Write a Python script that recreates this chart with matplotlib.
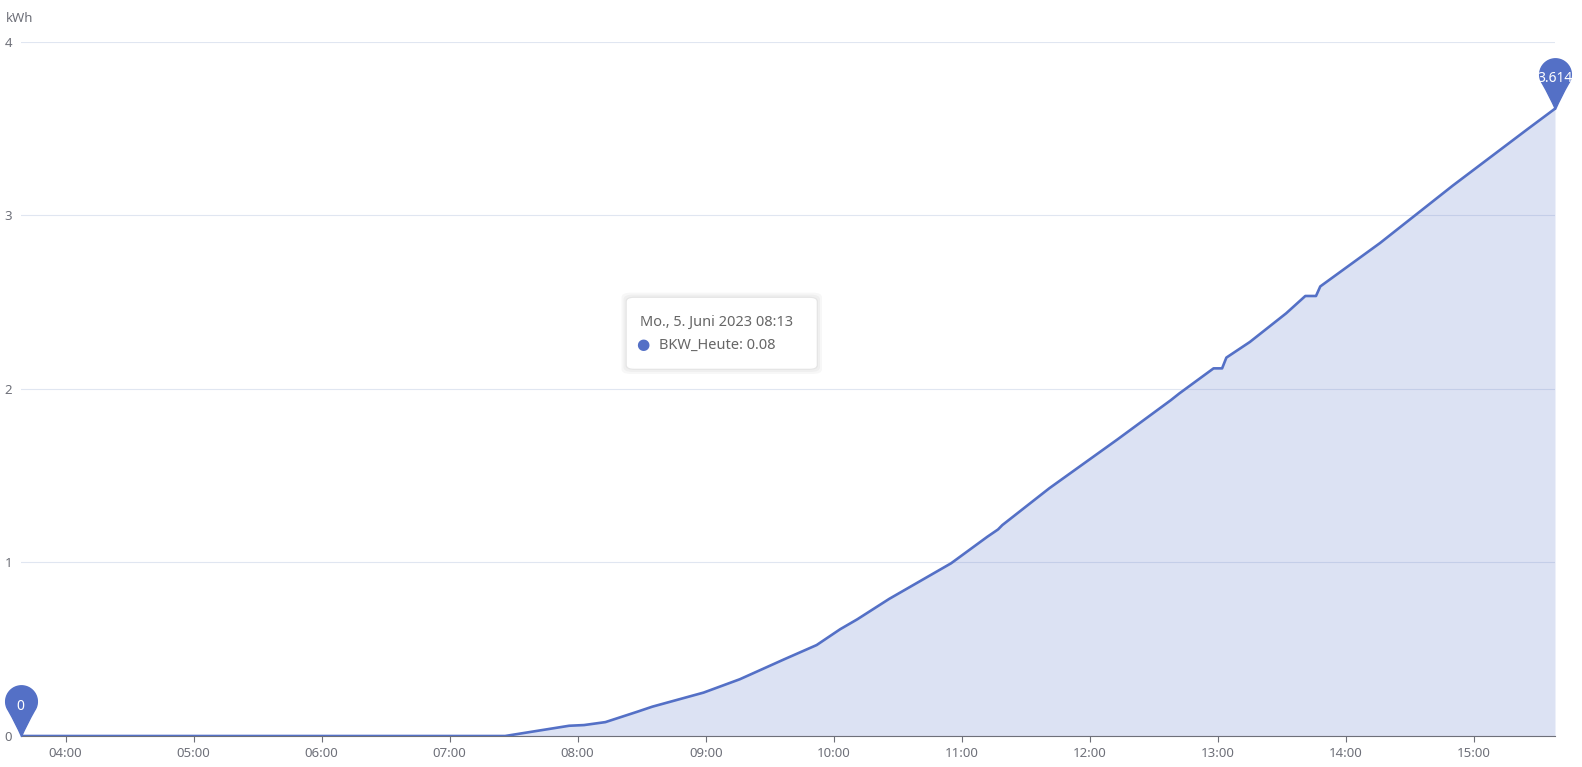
import matplotlib.pyplot as plt
from matplotlib.path import Path
from matplotlib.patches import FancyBboxPatch
import numpy as np

# Ablesewerte BKW_Heute (kWh) über die Uhrzeit
times = ["03:39", "07:26", "07:56", "08:03", "08:13", "08:28", "08:35", "08:59",
         "09:16", "09:37", "09:52", "10:03", "10:11", "10:26", "10:55", "11:10",
         "11:12", "11:17", "11:19", "11:41", "12:13", "12:38", "12:42", "12:58",
         "13:02", "13:04", "13:15", "13:32", "13:41", "13:46", "13:48", "14:16",
         "14:50", "15:25", "15:38"]
values = [0.0, 0.0, 0.059, 0.063, 0.08, 0.14, 0.169, 0.25,
          0.327, 0.443, 0.524, 0.615, 0.672, 0.79, 0.995, 1.13,
          1.148, 1.19, 1.215, 1.427, 1.709, 1.935, 1.974, 2.118,
          2.118, 2.18, 2.27, 2.435, 2.535, 2.535, 2.59, 2.84,
          3.17, 3.495, 3.614]
xtick_labels = ["04:00", "05:00", "06:00", "07:00", "08:00", "09:00",
                "10:00", "11:00", "12:00", "13:00", "14:00", "15:00"]
yticks = [0, 1, 2, 3, 4]

hours = np.array([int(t[:2]) + int(t[3:]) / 60 for t in times])
vals = np.array(values)

blue = "#5470c6"
grey = "#6e7079"
plt.rcParams["font.family"] = ["Noto Sans", "DejaVu Sans"]

fig = plt.figure(figsize=(15.82, 7.67), dpi=100)
ax = fig.add_axes([20.7 / 1582, 31 / 767, (1555 - 20.7) / 1582, (736 - 41.7) / 767])

ax.fill_between(hours, vals, 0, color=blue, alpha=0.2, lw=0)
ax.plot(hours, vals, color=blue, lw=1.9, solid_joinstyle="round", zorder=3)

ax.set_xlim(hours[0], hours[-1])
ax.set_ylim(0, 4)
ax.set_yticks(yticks)
ax.set_yticklabels([str(v) for v in yticks])
ax.set_xticks([int(l[:2]) for l in xtick_labels])
ax.set_xticklabels(xtick_labels)
ax.tick_params(axis="y", length=0, pad=6, labelsize=9.5, labelcolor=grey)
ax.tick_params(axis="x", length=4, width=0.8, color=grey, pad=4, labelsize=9.5, labelcolor=grey)
ax.grid(axis="y", color="#e0e6f1", lw=0.8)
ax.set_axisbelow(True)
for s in ["top", "right", "left"]:
    ax.spines[s].set_visible(False)
ax.spines["bottom"].set_color(grey)
ax.spines["bottom"].set_linewidth(0.8)

fig.text(6 / 1582, 1 - 19 / 767, "kWh", fontsize=9.5, color=grey, va="center", ha="left")

# Pin-Markierung (Min / Max): Kreis mit spitz zulaufendem Fuß
theta = np.linspace(np.radians(-35), np.radians(215), 40)
arc = [(np.cos(a), 2.2 + np.sin(a)) for a in theta]
verts = arc + [(-0.35, 0.8), (0, 0), (0.35, 0.8), arc[0], arc[0]]
codes = ([Path.MOVETO] + [Path.LINETO] * (len(arc) - 1)
         + [Path.CURVE3, Path.CURVE3, Path.CURVE3, Path.CURVE3, Path.CLOSEPOLY])
pin = Path(verts, codes)

for xi, yi, lab in [(hours[0], vals[0], "0"), (hours[-1], vals[-1], "3.614")]:
    ax.plot([xi], [yi], marker=pin, markersize=73, color=blue, mec=blue, clip_on=False, zorder=5)
    ax.annotate(lab, (xi, yi), xytext=(0, 21.5), textcoords="offset points",
                ha="center", va="center", color="white", fontsize=10, zorder=6,
                annotation_clip=False)

# Tooltip
bx0, by0, bx1, by1 = 627.5, 298.6, 816, 368
for i, a in enumerate([0.03, 0.03, 0.04]):
    d = 6 - 2 * i
    fig.patches.append(FancyBboxPatch(((bx0 - d) / 1582, 1 - (by1 + d) / 767),
                                      (bx1 - bx0 + 2 * d) / 1582, (by1 - by0 + 2 * d) / 767,
                                      boxstyle="round,pad=0,rounding_size=0.006",
                                      transform=fig.transFigure, fc="black", ec="none", alpha=a))
fig.patches.append(FancyBboxPatch((bx0 / 1582, 1 - by1 / 767), (bx1 - bx0) / 1582, (by1 - by0) / 767,
                                  boxstyle="round,pad=0,rounding_size=0.004",
                                  transform=fig.transFigure, fc="white", ec="white", lw=1))
fig.text(640 / 1582, 1 - 322 / 767, "Mo., 5. Juni 2023 08:13", fontsize=10.5, color="#666666",
         va="center", ha="left")
fig.text(643 / 1582, 1 - 345 / 767, "\u25cf", fontsize=11, color=blue, va="center", ha="center")
fig.text(659 / 1582, 1 - 345 / 767, "BKW_Heute: 0.08", fontsize=10.5, color="#666666",
         va="center", ha="left")

fig.savefig("out.png", dpi=100)
